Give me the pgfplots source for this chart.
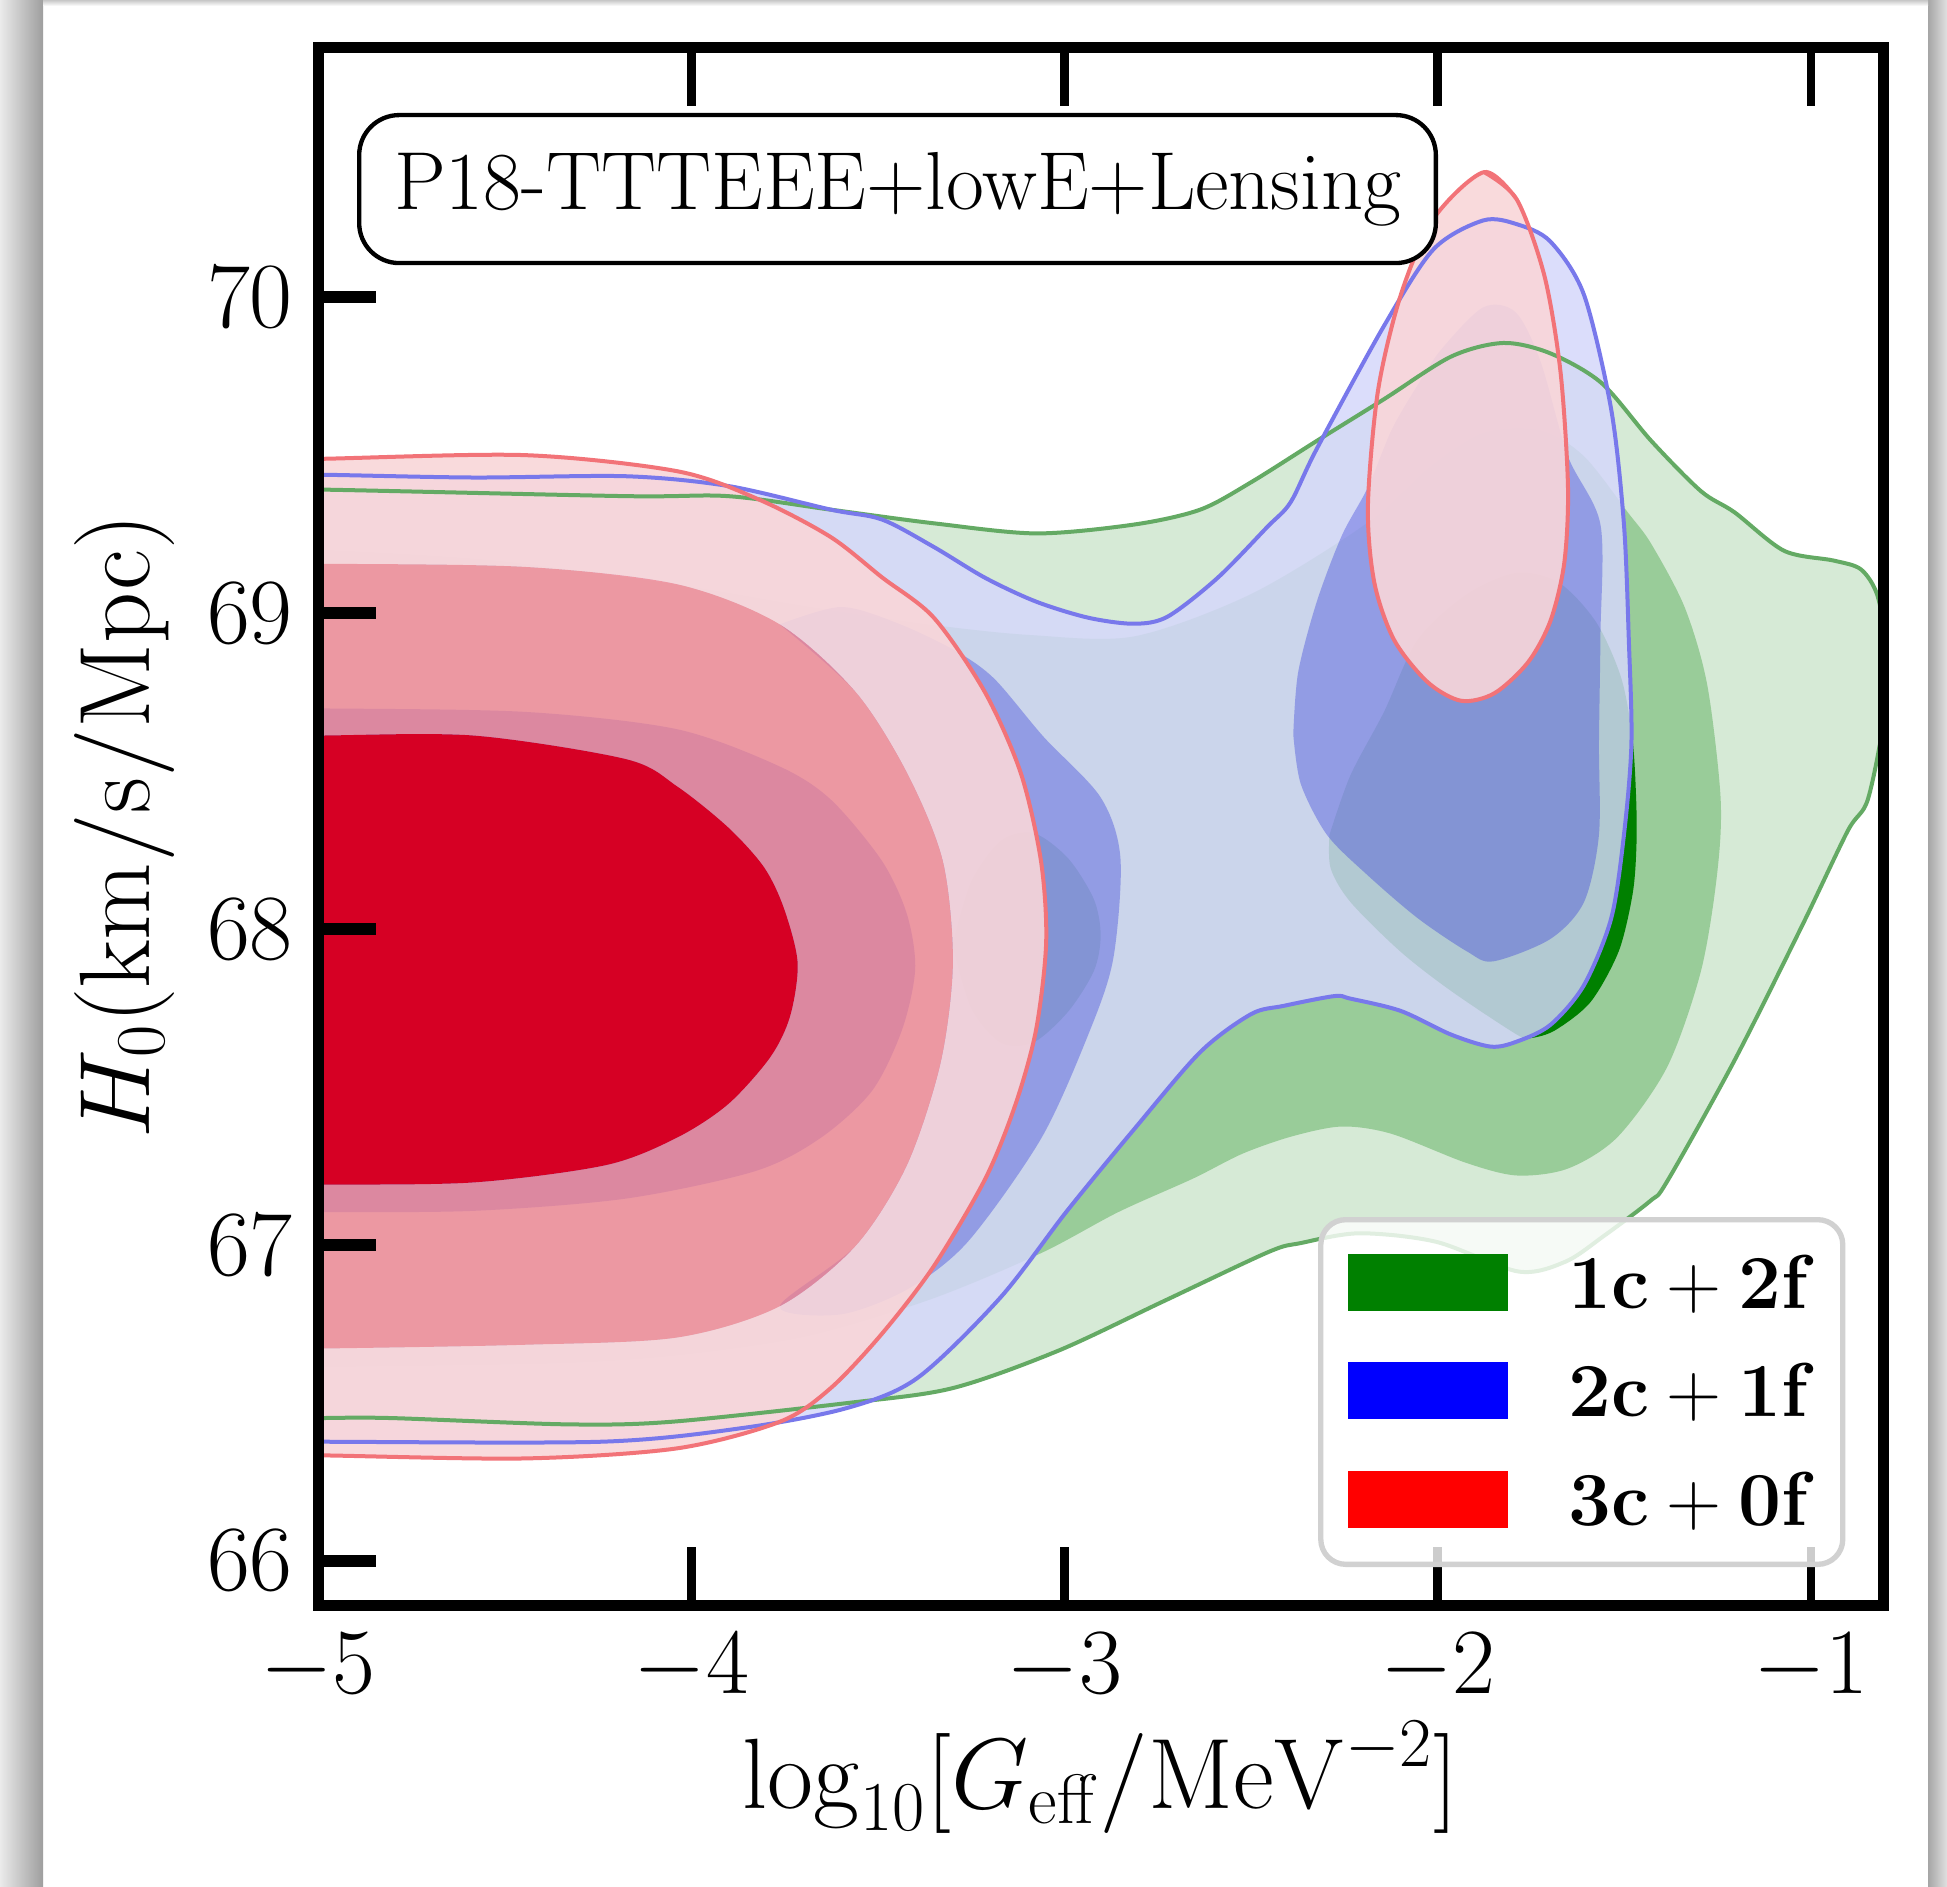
\RequirePackage{fix-cm}
\documentclass[border=0pt]{standalone}
\usepackage{pgfplots}
\pgfplotsset{compat=1.18}
\definecolor{cG3}{RGB}{214,234,214}
\definecolor{cG2}{RGB}{153,204,153}
\definecolor{cG1}{RGB}{0,128,0}
\definecolor{cB3}{RGB}{213,215,251}
\definecolor{cB1}{RGB}{51,59,218}
\definecolor{cR3}{RGB}{249,214,217}
\definecolor{cR2}{RGB}{249,129,135}
\definecolor{cR1}{RGB}{214,0,36}
\definecolor{cGL}{RGB}{100,170,100}
\definecolor{cBL}{RGB}{120,120,235}
\definecolor{cRL}{RGB}{242,115,120}
\definecolor{legG}{RGB}{0,128,0}
\definecolor{legB}{RGB}{0,0,255}
\definecolor{legR}{RGB}{255,0,0}
\begin{document}
\begin{tikzpicture}
\path[use as bounding box] (0,0) rectangle (584.1pt,565.8pt);
\fill[white] (0,0) rectangle (584.1pt,565.8pt);
\shade[left color=black!8, right color=black!38] (0,0) rectangle (12.9pt,565.8pt);
\shade[left color=black!35, right color=black!12] (578.4pt,0) rectangle (584.1pt,565.8pt);
\shade[top color=black!22, bottom color=white] (12.9pt,564pt) rectangle (578.4pt,565.8pt);
\begin{axis}[
  at={(95.4pt,84.3pt)}, anchor=south west,
  scale only axis, width=469.5pt, height=467.1pt,
  xmin=-5, xmax=-0.807, ymin=65.86, ymax=70.79,
  xtick={-5,-4,-3,-2,-1}, ytick={66,67,68,69,70},
  xtick pos=both, ytick pos=left,
  tick align=inside, major tick length=17.5pt,
  tick style={line width=3pt, black},
  every major x tick/.append style={line width=2.6pt},
  every major y tick/.append style={line width=3.6pt},
  axis line style={line width=3.3pt},
  axis on top,
  ticklabel style={font=\fontsize{28}{32}\selectfont},
  xticklabel style={anchor=base, inner sep=0pt, yshift=-26.4pt},
  yticklabel style={anchor=east, inner sep=0pt, xshift=-7.4pt},
  xlabel={$\log_{10}[G_{\mathrm{eff}}/\mathrm{MeV}^{-2}]$},
  ylabel={$H_0(\mathrm{km/s/Mpc})$},
  xlabel style={at={(axis description cs:0.5,-0.1304)}, anchor=base, font=\fontsize{30}{34}\selectfont},
  ylabel style={at={(axis description cs:-0.1236,0.5)}, anchor=center, font=\fontsize{30}{34}\selectfont},
  legend style={at={(0.976,0.0244)}, anchor=south east, draw=black!18, line width=1.6pt,
    rounded corners=7.5pt, fill=white, fill opacity=0.8, text opacity=1,
    inner xsep=8.2pt, inner ysep=10.3pt, row sep=14.7pt, column sep=18.1pt,
    font=\fontsize{22.9}{27}\selectfont, nodes={inner sep=0pt}},
  legend cell align=left,
  legend image code/.code={\fill[#1, draw=none, fill opacity=1, sharp corners] (0pt,-8.0pt) rectangle (48pt,9.1pt);},
]
% ---------- green (1c+2f) ----------
\addplot[draw=none, fill=cG3, smooth, forget plot] coordinates {
(-5.2,69.392) (-5,69.392) (-4.174,69.371) (-3.901,69.371) (-3.625,69.328) (-3.350,69.285) (-3.076,69.253) (-2.814,69.281) (-2.637,69.328) (-2.500,69.415) (-2.324,69.546) (-2.144,69.678) (-1.964,69.813) (-1.824,69.856) (-1.698,69.823) (-1.561,69.729) (-1.428,69.546) (-1.295,69.387) (-1.205,69.320) (-1.072,69.198) (-0.939,69.167) (-0.866,69.139) (-0.822,69.057) (-0.80,68.90) (-0.80,68.70) (-0.847,68.413) (-0.902,68.310) (-1.025,68.008) (-1.205,67.584) (-1.385,67.202) (-1.431,67.139) (-1.558,67.026) (-1.658,66.947) (-1.784,66.916) (-2.004,67.010) (-2.210,67.037) (-2.367,67.006) (-2.453,66.978) (-2.736,66.821) (-3.019,66.664) (-3.302,66.546) (-3.585,66.499) (-4.055,66.440) (-4.334,66.432) (-4.807,66.452) (-5,66.452) (-5.2,66.452)};
\addplot[draw=none, fill=cG2, smooth, forget plot] coordinates {
(-5.2,69.202) (-5,69.202) (-4.521,69.167) (-4.021,69.088) (-3.688,69.022) (-3.352,68.963) (-3.089,68.931) (-2.813,68.927) (-2.500,69.061) (-2.190,69.285) (-2.024,69.462) (-1.878,69.572) (-1.724,69.580) (-1.608,69.497) (-1.491,69.320) (-1.428,69.220) (-1.338,69.018) (-1.278,68.774) (-1.242,68.413) (-1.252,68.169) (-1.295,67.866) (-1.385,67.564) (-1.518,67.342) (-1.651,67.242) (-1.788,67.220) (-1.924,67.260) (-2.124,67.352) (-2.257,67.375) (-2.390,67.344) (-2.523,67.289) (-2.656,67.210) (-2.856,67.104) (-3.063,66.974) (-3.356,66.829) (-3.688,66.711) (-4.021,66.652) (-4.354,66.625) (-5,66.613) (-5.2,66.613)};
\addplot[draw=none, fill=cG1, smooth, forget plot] coordinates {
(-2.290,68.299) (-2.234,68.487) (-2.144,68.688) (-2.054,68.916) (-1.921,69.061) (-1.788,69.128) (-1.674,69.096) (-1.575,68.971) (-1.508,68.794) (-1.478,68.600) (-1.468,68.400) (-1.468,68.250) (-1.478,68.110) (-1.515,67.930) (-1.590,67.770) (-1.685,67.680) (-1.751,67.655) (-1.788,67.666) (-1.964,67.804) (-2.100,67.929) (-2.234,68.086) (-2.287,68.193) (-2.290,68.299)};
\addplot[draw=none, fill=cG1, smooth, forget plot] coordinates {
(-3.30,67.95) (-3.25,68.15) (-3.17,68.28) (-3.082,68.304) (-2.990,68.224) (-2.921,68.094) (-2.903,67.980) (-2.921,67.868) (-2.990,67.739) (-3.082,67.642) (-3.17,67.64) (-3.25,67.75) (-3.30,67.95)};
% ---------- blue (2c+1f) ----------
\addplot[draw=none, fill=cB3, fill opacity=0.84, smooth, forget plot] coordinates {
(-5.2,69.439) (-5,69.439) (-4.584,69.430) (-4.174,69.434) (-3.900,69.403) (-3.625,69.328) (-3.489,69.297) (-3.350,69.210) (-3.212,69.112) (-3.076,69.037) (-2.936,68.986) (-2.813,68.967) (-2.723,68.990) (-2.590,69.112) (-2.457,69.273) (-2.394,69.352) (-2.324,69.521) (-2.144,69.910) (-2.011,70.153) (-1.878,70.244) (-1.788,70.232) (-1.698,70.177) (-1.608,70.008) (-1.535,69.644) (-1.501,69.281) (-1.488,68.916) (-1.481,68.589) (-1.501,68.299) (-1.535,68.035) (-1.608,67.823) (-1.698,67.697) (-1.788,67.644) (-1.858,67.628) (-1.964,67.666) (-2.099,67.741) (-2.234,67.780) (-2.277,67.788) (-2.413,67.757) (-2.500,67.731) (-2.636,67.611) (-2.813,67.367) (-2.993,67.108) (-3.172,66.833) (-3.395,66.578) (-3.585,66.483) (-3.865,66.420) (-4.241,66.377) (-5,66.377) (-5.2,66.377)};
\addplot[draw=none, fill=cB1, fill opacity=0.37, smooth, forget plot] coordinates {
(-2.387,68.617) (-2.374,68.813) (-2.324,69.037) (-2.257,69.246) (-2.187,69.399) (-2.124,69.580) (-2.057,69.717) (-1.991,69.835) (-1.878,69.969) (-1.791,69.953) (-1.724,69.796) (-1.651,69.497) (-1.564,69.281) (-1.564,68.931) (-1.568,68.589) (-1.568,68.299) (-1.608,68.086) (-1.698,67.969) (-1.851,67.898) (-1.921,67.929) (-2.054,68.035) (-2.190,68.173) (-2.297,68.299) (-2.367,68.460) (-2.387,68.617)};
\addplot[draw=none, fill=cB1, fill opacity=0.37, smooth, forget plot] coordinates {
(-5.2,68.699) (-5,68.699) (-4.447,68.688) (-4.038,68.633) (-3.763,68.515) (-3.625,68.409) (-3.489,68.216) (-3.422,68.047) (-3.400,67.874) (-3.435,67.682) (-3.515,67.489) (-3.652,67.340) (-3.828,67.234) (-4.174,67.147) (-4.584,67.108) (-5,67.104) (-5.2,67.104)};
\addplot[draw=none, fill=cB1, fill opacity=0.37, smooth, forget plot] coordinates {
(-3.763,68.965) (-3.60,69.02) (-3.45,68.97) (-3.296,68.884) (-3.189,68.794) (-3.056,68.609) (-2.903,68.417) (-2.850,68.224) (-2.870,67.902) (-2.939,67.658) (-3.063,67.336) (-3.259,67.010) (-3.42,66.86) (-3.60,66.78) (-3.763,66.806) (-3.559,66.998) (-3.422,67.253) (-3.332,67.576) (-3.299,67.894) (-3.326,68.216) (-3.422,68.495) (-3.559,68.750) (-3.763,68.965)};
% ---------- red (3c+0f) ----------
\addplot[draw=none, fill=cR3, fill opacity=0.9, smooth, forget plot] coordinates {
(-5.2,69.489) (-5,69.489) (-4.449,69.501) (-4.038,69.450) (-3.818,69.360) (-3.627,69.242) (-3.489,69.114) (-3.350,68.986) (-3.213,68.750) (-3.117,68.494) (-3.063,68.216) (-3.049,67.960) (-3.076,67.682) (-3.131,67.446) (-3.212,67.210) (-3.350,66.933) (-3.489,66.719) (-3.627,66.546) (-3.763,66.440) (-4.038,66.356) (-4.449,66.324) (-5,66.334) (-5.2,66.334)
(-5.2,66.672) (-5,66.672) (-4.447,66.684) (-4.038,66.707) (-3.763,66.806) (-3.559,66.998) (-3.422,67.253) (-3.332,67.576) (-3.299,67.894) (-3.326,68.216) (-3.422,68.495) (-3.559,68.750) (-3.763,68.965) (-4.038,69.092) (-4.447,69.147) (-5,69.157) (-5.2,69.157)};
\addplot[draw=none, fill=cR2, fill opacity=0.72, smooth, forget plot] coordinates {
(-5.2,69.157) (-5,69.157) (-4.447,69.147) (-4.038,69.092) (-3.763,68.965) (-3.559,68.750) (-3.422,68.495) (-3.326,68.216) (-3.299,67.894) (-3.332,67.576) (-3.422,67.253) (-3.559,66.998) (-3.763,66.806) (-4.038,66.707) (-4.447,66.684) (-5,66.672) (-5.2,66.672)
(-5.2,67.191) (-5,67.191) (-4.584,67.198) (-4.228,67.253) (-4.038,67.340) (-3.901,67.446) (-3.788,67.595) (-3.735,67.725) (-3.715,67.894) (-3.752,68.067) (-3.805,68.196) (-3.901,68.322) (-4.038,68.452) (-4.174,68.538) (-4.584,68.613) (-5,68.613) (-5.2,68.613)};
\addplot[draw=none, fill=cR1, smooth, forget plot] coordinates {
(-5.2,68.613) (-5,68.613) (-4.584,68.613) (-4.174,68.538) (-4.038,68.452) (-3.901,68.322) (-3.805,68.196) (-3.752,68.067) (-3.715,67.894) (-3.735,67.725) (-3.788,67.595) (-3.901,67.446) (-4.038,67.340) (-4.228,67.253) (-4.584,67.198) (-5,67.191) (-5.2,67.191)};
\addplot[draw=none, fill=cR3, fill opacity=0.9, smooth, forget plot] coordinates {
(-1.876,70.397) (-1.788,70.310) (-1.714,70.068) (-1.671,69.764) (-1.651,69.400) (-1.661,69.159) (-1.698,68.976) (-1.758,68.845) (-1.848,68.747) (-1.937,68.723) (-2.027,68.782) (-2.117,68.916) (-2.170,69.098) (-2.187,69.340) (-2.160,69.705) (-2.099,70.008) (-2.011,70.250) (-1.876,70.397) (-1.788,70.310)};
% ---------- contour lines ----------
\addplot[draw=cGL, line width=1.2pt, smooth, forget plot] coordinates {
(-5.2,69.392) (-5,69.392) (-4.174,69.371) (-3.901,69.371) (-3.625,69.328) (-3.350,69.285) (-3.076,69.253) (-2.814,69.281) (-2.637,69.328) (-2.500,69.415) (-2.324,69.546) (-2.144,69.678) (-1.964,69.813) (-1.824,69.856) (-1.698,69.823) (-1.561,69.729) (-1.428,69.546) (-1.295,69.387) (-1.205,69.320) (-1.072,69.198) (-0.939,69.167) (-0.866,69.139) (-0.822,69.057) (-0.80,68.90) (-0.80,68.70) (-0.847,68.413) (-0.902,68.310) (-1.025,68.008) (-1.205,67.584) (-1.385,67.202) (-1.431,67.139) (-1.558,67.026) (-1.658,66.947) (-1.784,66.916) (-2.004,67.010) (-2.210,67.037) (-2.367,67.006) (-2.453,66.978) (-2.736,66.821) (-3.019,66.664) (-3.302,66.546) (-3.585,66.499) (-4.055,66.440) (-4.334,66.432) (-4.807,66.452) (-5,66.452) (-5.2,66.452)};
\addplot[draw=cBL, line width=1.2pt, smooth, forget plot] coordinates {
(-5.2,69.439) (-5,69.439) (-4.584,69.430) (-4.174,69.434) (-3.900,69.403) (-3.625,69.328) (-3.489,69.297) (-3.350,69.210) (-3.212,69.112) (-3.076,69.037) (-2.936,68.986) (-2.813,68.967) (-2.723,68.990) (-2.590,69.112) (-2.457,69.273) (-2.394,69.352) (-2.324,69.521) (-2.144,69.910) (-2.011,70.153) (-1.878,70.244) (-1.788,70.232) (-1.698,70.177) (-1.608,70.008) (-1.535,69.644) (-1.501,69.281) (-1.488,68.916) (-1.481,68.589) (-1.501,68.299) (-1.535,68.035) (-1.608,67.823) (-1.698,67.697) (-1.788,67.644) (-1.858,67.628) (-1.964,67.666) (-2.099,67.741) (-2.234,67.780) (-2.277,67.788) (-2.413,67.757) (-2.500,67.731) (-2.636,67.611) (-2.813,67.367) (-2.993,67.108) (-3.172,66.833) (-3.395,66.578) (-3.585,66.483) (-3.865,66.420) (-4.241,66.377) (-5,66.377) (-5.2,66.377)};
\addplot[draw=cRL, line width=1.2pt, smooth, forget plot] coordinates {
(-5.2,69.489) (-5,69.489) (-4.449,69.501) (-4.038,69.450) (-3.818,69.360) (-3.627,69.242) (-3.489,69.114) (-3.350,68.986) (-3.213,68.750) (-3.117,68.494) (-3.063,68.216) (-3.049,67.960) (-3.076,67.682) (-3.131,67.446) (-3.212,67.210) (-3.350,66.933) (-3.489,66.719) (-3.627,66.546) (-3.763,66.440) (-4.038,66.356) (-4.449,66.324) (-5,66.334) (-5.2,66.334)};
\addplot[draw=cRL, line width=1.2pt, smooth, forget plot] coordinates {
(-1.876,70.397) (-1.788,70.310) (-1.714,70.068) (-1.671,69.764) (-1.651,69.400) (-1.661,69.159) (-1.698,68.976) (-1.758,68.845) (-1.848,68.747) (-1.937,68.723) (-2.027,68.782) (-2.117,68.916) (-2.170,69.098) (-2.187,69.340) (-2.160,69.705) (-2.099,70.008) (-2.011,70.250) (-1.876,70.397) (-1.788,70.310)};
% ---------- legend ----------
\addlegendimage{fill=legG}
\addlegendentry{$\mathbf{1c}+\mathbf{2f}$}
\addlegendimage{fill=legB}
\addlegendentry{$\mathbf{2c}+\mathbf{1f}$}
\addlegendimage{fill=legR}
\addlegendentry{$\mathbf{3c}+\mathbf{0f}$}
\node[draw=black, line width=1.3pt, rounded corners=12pt, fill=white,
  minimum width=323pt, minimum height=44.4pt, inner sep=0pt,
  text height=16.9pt, text depth=4.8pt, font=\fontsize{24.7}{29}\selectfont]
  at (rel axis cs:0.3703,0.9094) {P18-TTTEEE+lowE+Lensing};
\end{axis}
\end{tikzpicture}
\end{document}
